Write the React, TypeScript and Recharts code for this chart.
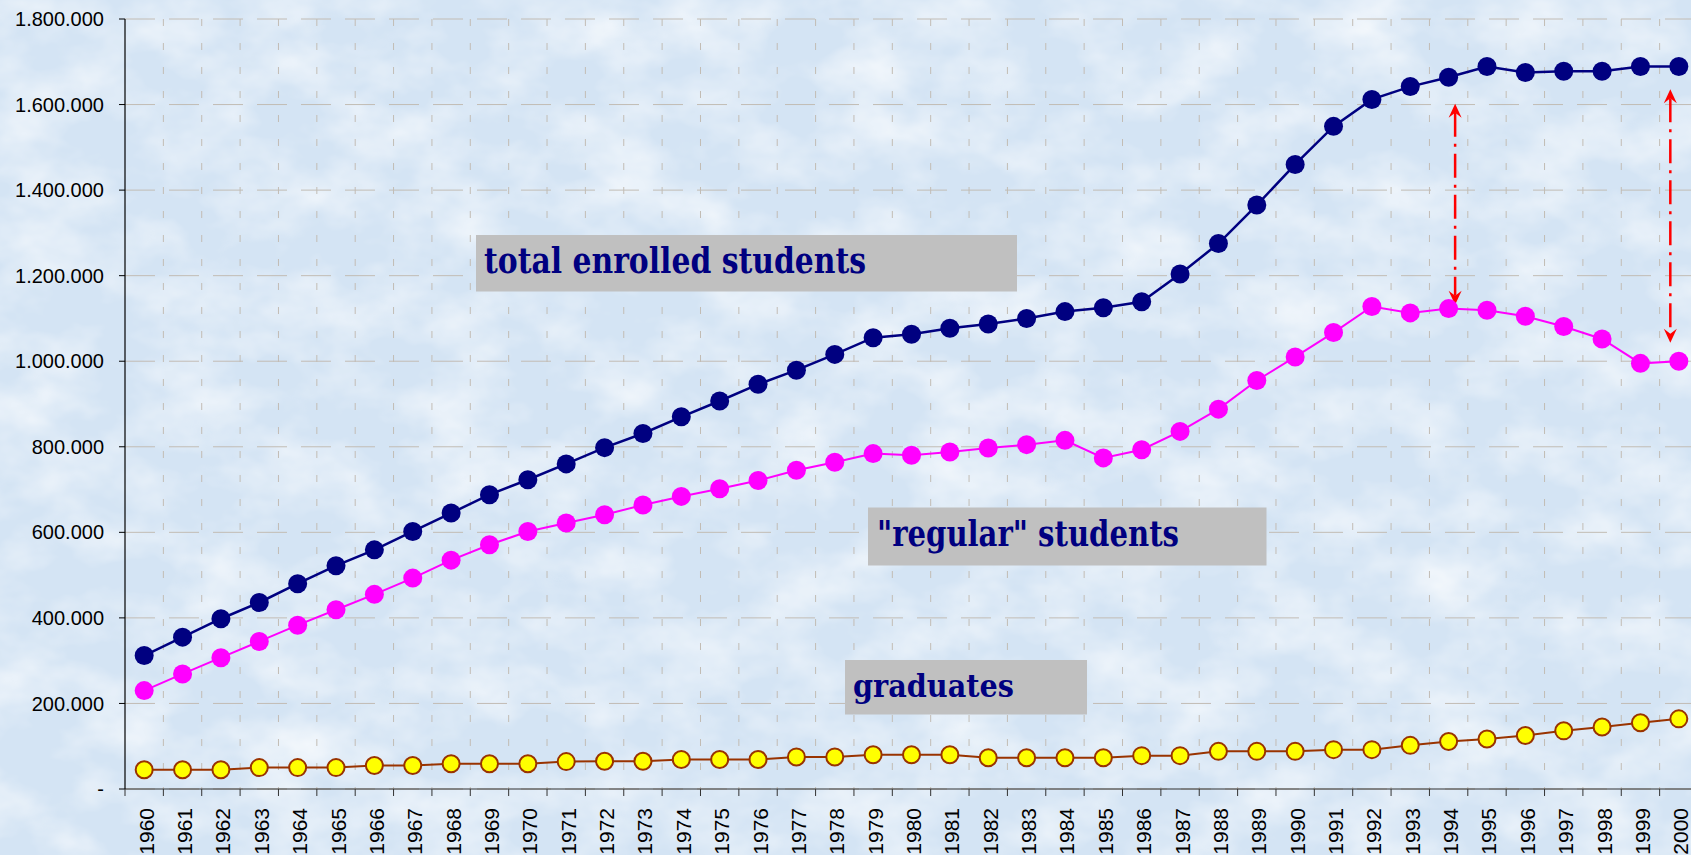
import React from 'react';
import { LineChart, Line, XAxis, YAxis, CartesianGrid, ReferenceLine } from 'recharts';

// ---------- data ----------
const years = [
  '1960', '1961', '1962', '1963', '1964', '1965', '1966', '1967', '1968', '1969',
  '1970', '1971', '1972', '1973', '1974', '1975', '1976', '1977', '1978', '1979',
  '1980', '1981', '1982', '1983', '1984', '1985', '1986', '1987', '1988', '1989',
  '1990', '1991', '1992', '1993', '1994', '1995', '1996', '1997', '1998', '1999', '2000',
];

const totalEnrolled = [
  312000, 355000, 398000, 436000, 480000, 522000, 559000, 602000, 645000, 688000,
  723000, 760000, 798000, 831000, 870000, 907000, 946000, 979000, 1016000, 1055000,
  1063000, 1077000, 1087000, 1100000, 1116000, 1125000, 1139000, 1204000, 1275000, 1365000,
  1460000, 1549000, 1612000, 1642000, 1664000, 1689000, 1675000, 1678000, 1678000, 1689000, 1689000,
];

const regularStudents = [
  230000, 269000, 307000, 345000, 383000, 419000, 455000, 493000, 535000, 571000,
  602000, 622000, 641000, 664000, 684000, 702000, 721000, 745000, 764000, 784000,
  780000, 788000, 797000, 805000, 815000, 774000, 793000, 836000, 888000, 955000,
  1010000, 1067000, 1128000, 1113000, 1123000, 1119000, 1105000, 1081000, 1052000, 995000, 1000000,
];

const graduates = [
  45000, 45000, 45000, 50000, 50000, 50000, 55000, 55000, 59000, 59000,
  59000, 64000, 65000, 65000, 69000, 69000, 69000, 75000, 75000, 80000,
  80000, 80000, 73000, 73000, 73000, 73000, 78000, 78000, 88000, 88000,
  88000, 92000, 92000, 102000, 111000, 117000, 125000, 136000, 145000, 155000, 164000,
];

const yTicks = [0, 200000, 400000, 600000, 800000, 1000000, 1200000, 1400000, 1600000, 1800000];

const arrowYears = ['1994', '2000'];
const arrowTops = [1602000, 1636000];
const arrowBottoms = [1132000, 1043000];

const labelTexts = ['total enrolled students', '"regular" students', 'graduates'];

const data = years.map((year, i) => ({
  year,
  total: totalEnrolled[i],
  regular: regularStudents[i],
  graduates: graduates[i],
}));

// ---------- layout ----------
const VIEW_W = 1691;
const VIEW_H = 855;
const CHART_W = 1700;
const CHART_H = 855;
const MARGIN = { top: 19, right: 2, left: 0, bottom: 0 };
const Y_AXIS_W = 125;
const X_AXIS_H = 66;
const PLOT_LEFT = MARGIN.left + Y_AXIS_W;
const PLOT_W = CHART_W - MARGIN.left - MARGIN.right - Y_AXIS_W;
const BAND = PLOT_W / years.length;
const HALF = BAND / 2;
const verticalGrid = years.slice(1).map((_, i) => PLOT_LEFT + (i + 1) * BAND);

const arrowDx = [6.5, -8.5];

const fmt = (v: number) =>
  v === 0 ? '-' : String(v).replace(/\B(?=(\d{3})+(?!\d))/g, '.');

const XTick = (props: any) => {
  const { x, y, payload } = props;
  return (
    <g>
      <line x1={x - HALF} x2={x - HALF} y1={y} y2={y + 7} stroke="#333" strokeWidth={1} />
      <text
        transform={`translate(${x + 9.5},${y + 19}) rotate(-90)`}
        textAnchor="end"
        fontSize={21}
        fontFamily="'Liberation Sans', Arial, sans-serif"
        fill="#000"
      >
        {payload.value}
      </text>
    </g>
  );
};

const makeArrow = (dx: number) => (p: any) => {
  const x = (p.x1 ?? 0) + dx;
  const top = Math.min(p.y1, p.y2);
  const bot = Math.max(p.y1, p.y2);
  const L = 14;
  const W = 6.5;
  const N = 9;
  return (
    <g>
      <line
        x1={x}
        x2={x}
        y1={top + N}
        y2={bot - N}
        stroke="#ff0000"
        strokeWidth={2.5}
        strokeDasharray="24 7 3 7"
      />
      <path d={`M${x},${top} L${x + W},${top + L} L${x},${top + N} L${x - W},${top + L} Z`} fill="#ff0000" />
      <path d={`M${x},${bot} L${x + W},${bot - L} L${x},${bot - N} L${x - W},${bot - L} Z`} fill="#ff0000" />
    </g>
  );
};

const boxes = [
  { x: 476, y: 235, w: 541, h: 56.5, tx: 484, ty: 273, fs: 35, tl: 382 },
  { x: 868, y: 507.5, w: 398.5, h: 58, tx: 877, ty: 545.7, fs: 35, tl: 302 },
  { x: 845, y: 660, w: 242, h: 54.5, tx: 853, ty: 697, fs: 32, tl: 161 },
];

export default function App() {
  return (
    <div
      style={{
        position: 'absolute',
        left: 0,
        top: 0,
        width: VIEW_W,
        height: VIEW_H,
        overflow: 'hidden',
        background: '#d4e4f4',
      }}
    >
      <svg width={VIEW_W} height={VIEW_H} style={{ position: 'absolute', left: 0, top: 0 }}>
        <defs>
          <filter id="bgNoise" x="0" y="0" width="100%" height="100%">
            <feTurbulence type="fractalNoise" baseFrequency="0.012 0.018" numOctaves={4} seed={7} />
            <feColorMatrix type="matrix" values="0 0 0 0 1  0 0 0 0 1  0 0 0 0 1  1.3 0 0 0 -0.5" />
          </filter>
        </defs>
        <rect width={VIEW_W} height={VIEW_H} fill="#d4e4f4" />
        <rect width={VIEW_W} height={VIEW_H} filter="url(#bgNoise)" />
      </svg>
      <div style={{ position: 'absolute', left: 0, top: 0 }}>
        <LineChart width={CHART_W} height={CHART_H} data={data} margin={MARGIN}>
          <CartesianGrid horizontal={true} vertical={false} stroke="#c2bcb4" strokeDasharray="30 14" />
          <CartesianGrid
            horizontal={false}
            vertical={true}
            verticalPoints={verticalGrid}
            stroke="#c2bcb4"
            strokeDasharray="7 17"
          />
          <XAxis
            dataKey="year"
            type="category"
            scale="point"
            padding={{ left: HALF, right: HALF }}
            interval={0}
            height={X_AXIS_H}
            tickSize={0}
            tickMargin={0}
            tickLine={false}
            axisLine={{ stroke: '#333', strokeWidth: 1.2 }}
            tick={<XTick />}
          />
          <YAxis
            width={Y_AXIS_W}
            domain={[0, 1800000]}
            ticks={yTicks}
            interval={0}
            tickFormatter={fmt}
            tickSize={6}
            tickMargin={15}
            axisLine={{ stroke: '#000', strokeWidth: 1.2 }}
            tickLine={{ stroke: '#000' }}
            tick={{ fontSize: 20, fill: '#000', fontFamily: "'Liberation Sans', Arial, sans-serif" }}
          />
          <Line
            dataKey="total"
            type="linear"
            stroke="#000080"
            strokeWidth={2.5}
            dot={{ r: 9.5, fill: '#000080', stroke: 'none' }}
            activeDot={false}
            isAnimationActive={false}
          />
          <Line
            dataKey="regular"
            type="linear"
            stroke="#ff00ff"
            strokeWidth={2}
            dot={{ r: 9.5, fill: '#ff00ff', stroke: 'none' }}
            activeDot={false}
            isAnimationActive={false}
          />
          <Line
            dataKey="graduates"
            type="linear"
            stroke="#993300"
            strokeWidth={2}
            dot={{ r: 8.5, fill: '#ffff00', stroke: '#993300', strokeWidth: 2 }}
            activeDot={false}
            isAnimationActive={false}
          />
          {arrowYears.map((yr, i) => (
            <ReferenceLine
              key={yr}
              segment={[
                { x: yr, y: arrowTops[i] },
                { x: yr, y: arrowBottoms[i] },
              ]}
              shape={makeArrow(arrowDx[i])}
              ifOverflow="visible"
            />
          ))}
        </LineChart>
      </div>
      <svg
        width={VIEW_W}
        height={VIEW_H}
        style={{ position: 'absolute', left: 0, top: 0, pointerEvents: 'none' }}
      >
        {boxes.map((b, i) => (
          <g key={i}>
            <rect x={b.x} y={b.y} width={b.w} height={b.h} fill="#c0c0c0" />
            <text
              x={b.tx}
              y={b.ty}
              fontSize={b.fs}
              fontWeight="bold"
              fontFamily="'DejaVu Serif', 'Liberation Serif', serif"
              fill="#000080"
              textLength={b.tl}
              lengthAdjust="spacingAndGlyphs"
            >
              {labelTexts[i]}
            </text>
          </g>
        ))}
      </svg>
    </div>
  );
}
